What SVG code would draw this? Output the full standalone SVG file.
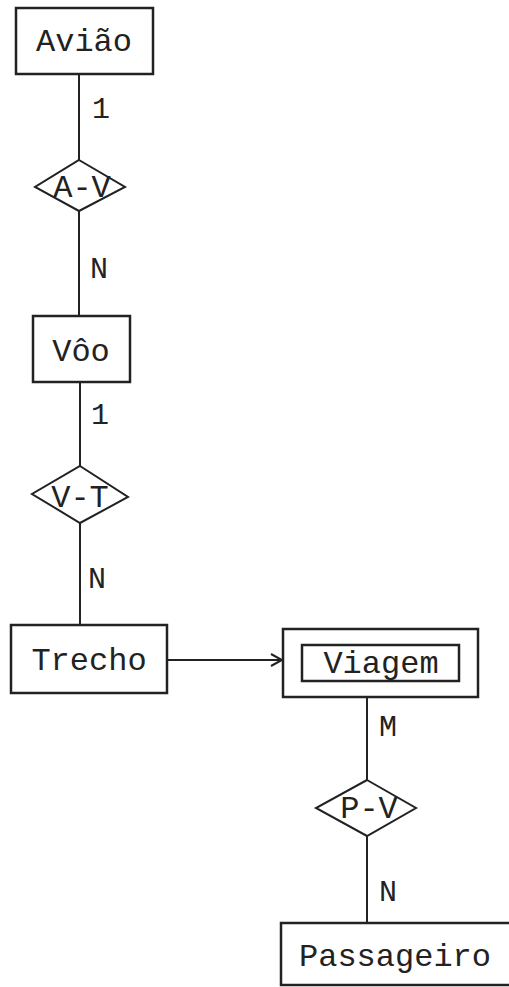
<svg xmlns="http://www.w3.org/2000/svg" width="509" height="987" viewBox="0 0 509 987">
<style>
.box{fill:#fff;stroke:#222;stroke-width:2.5}
.dia{fill:#fff;stroke:#222;stroke-width:2}
.ln{fill:none;stroke:#222;stroke-width:2}
.t{font-family:"Liberation Mono","Courier New",monospace;font-size:32px;fill:#222;text-anchor:middle}
.lb{font-family:"Liberation Mono","Courier New",monospace;font-size:30px;fill:#222}
</style>
<defs>
<marker id="ah" markerWidth="14" markerHeight="14" refX="12" refY="7" orient="auto" markerUnits="userSpaceOnUse">
<path d="M1,1 L12,7 L1,13" fill="none" stroke="#222" stroke-width="2"/>
</marker>
</defs>
<g id="connectors">
<line class="ln" x1="79" y1="74" x2="79" y2="160"/>
<line class="ln" x1="79" y1="211" x2="79" y2="316"/>
<line class="ln" x1="80" y1="382" x2="80" y2="466"/>
<line class="ln" x1="80" y1="523" x2="80" y2="625"/>
<line class="ln" x1="167" y1="660" x2="282" y2="660" marker-end="url(#ah)"/>
<line class="ln" x1="367" y1="697" x2="367" y2="780"/>
<line class="ln" x1="367" y1="836" x2="367" y2="923"/>
<text class="lb" x="92" y="118">1</text>
<text class="lb" x="90" y="278">N</text>
<text class="lb" x="91" y="424">1</text>
<text class="lb" x="88" y="588">N</text>
<text class="lb" x="379" y="736">M</text>
<text class="lb" x="379" y="901">N</text>
</g>
<g id="aviao">
<rect class="box" x="16" y="8" width="137" height="66"/>
<text class="t" x="84" y="51">Avião</text>
</g>
<g id="av">
<polygon class="dia" points="79,160 125,187 79,211 35,187"/>
<text class="t" x="82" y="197">A-V</text>
</g>
<g id="voo">
<rect class="box" x="33" y="316" width="97" height="66"/>
<text class="t" x="81" y="361">Vôo</text>
</g>
<g id="vt">
<polygon class="dia" points="80,466 128,497 80,523 32,494"/>
<text class="t" x="80" y="507">V-T</text>
</g>
<g id="trecho">
<rect class="box" x="11" y="625" width="156" height="68"/>
<text class="t" x="89" y="670">Trecho</text>
</g>
<g id="viagem">
<rect class="box" x="283" y="629" width="195" height="68"/>
<rect class="box" x="302" y="645" width="157" height="36"/>
<text class="t" x="381" y="673">Viagem</text>
</g>
<g id="pv">
<polygon class="dia" points="367,780 416,808 367,836 316,808"/>
<text class="t" x="369" y="818">P-V</text>
</g>
<g id="passageiro">
<rect class="box" x="281" y="923" width="240" height="62"/>
<text class="t" x="395" y="966">Passageiro</text>
</g>
</svg>
